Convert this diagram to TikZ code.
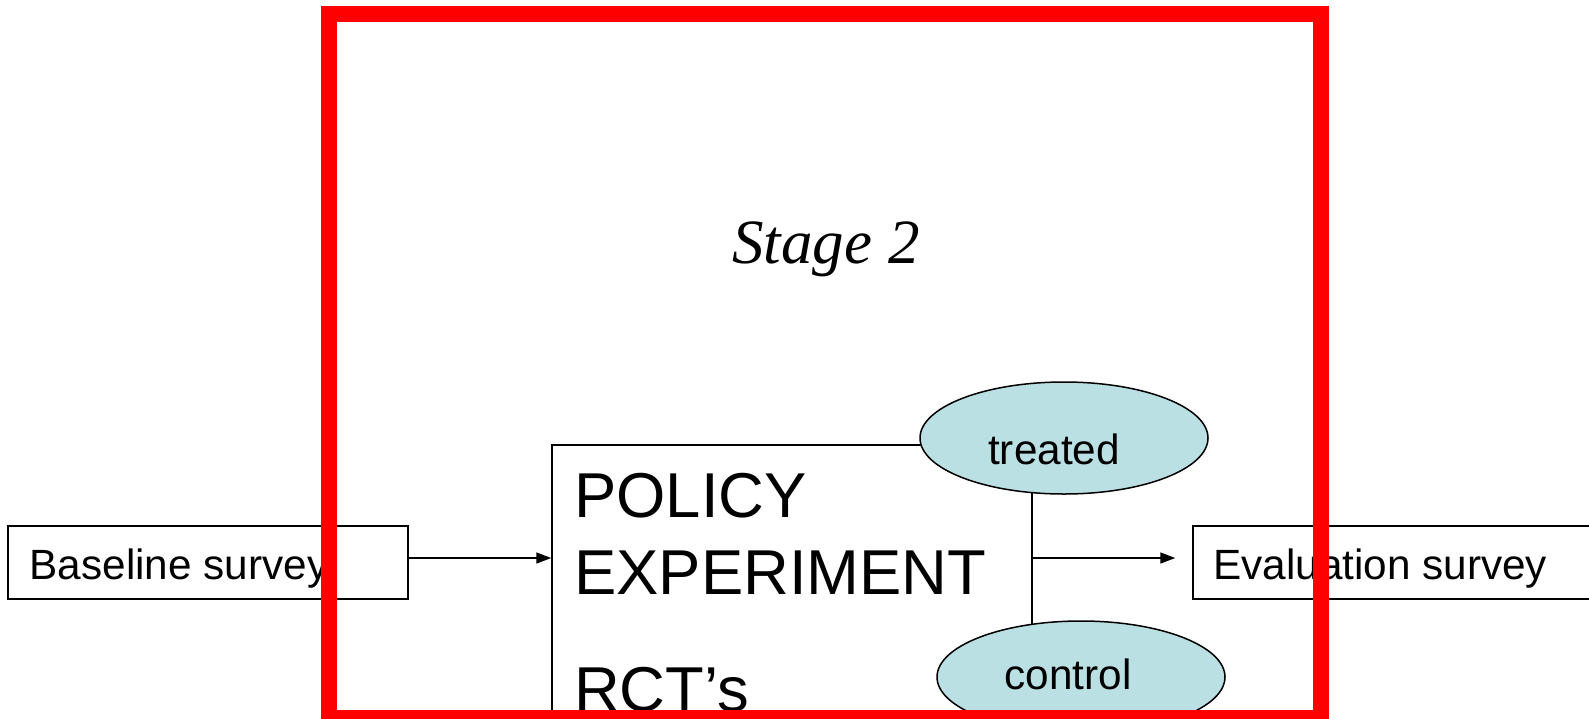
\documentclass[tikz,border=0pt]{standalone}
\usepackage{fontspec}
\setmainfont{Liberation Sans}
\newfontfamily\serifit{Liberation Serif}
\usetikzlibrary{arrows.meta,shapes.geometric}
\definecolor{ellfill}{RGB}{187,224,228}
\definecolor{framered}{RGB}{255,0,0}
\begin{document}
\begin{tikzpicture}[x=1pt,y=-1pt,
  boxline/.style={draw=black,line width=1.5pt},
  rectbox/.style={boxline,rectangle,inner sep=0pt,fill=white},
  ovalnode/.style={boxline,ellipse,fill=ellfill,inner sep=0pt,minimum width=288pt,minimum height=112pt},
  smalltext/.style={inner sep=0pt,font=\fontsize{42.3}{50}\selectfont},
  bigtext/.style={inner sep=0pt,anchor=base west,font=\fontsize{63.4}{76}\selectfont},
  arr/.style={line width=1.5pt,-{Triangle[length=15pt,width=11pt]}}]
\useasboundingbox (0,0) rectangle (1589,718);
\clip (0,0) rectangle (1589,718);
\fill[white] (0,0) rectangle (1589,718);
\coordinate (ay) at (0,558);
% boxes
\node[rectbox,minimum width=400pt,minimum height=73pt] (base) at (208,562.5) {};
\node[smalltext,anchor=base west] (baset) at (29.5,579) {Baseline survey};
\node[rectbox,minimum width=480pt,minimum height=415pt] (pol) at (792,652.5) {};
\node[bigtext] (l1) at (574,517) {POLICY};
\node[bigtext] (l2) at (574,594) {EXPERIMENT};
\node[bigtext] (l3) at (574,711) {RCT’s};
\node[rectbox,minimum width=450pt,minimum height=73pt] (eval) at (1418,562.5) {};
\node[smalltext,anchor=base west] (evalt) at (1213,579) {Evaluation survey};
% ellipses
\node[ovalnode] (tr) at (1064,438) {};
\node[smalltext] (trt) at (1054,449) {treated};
\node[ovalnode] (co) at (1081,677) {};
\node[smalltext] (cot) at (1068,674) {control};
% arrows
\draw[arr] (base.east |- ay) -- (pol.west |- ay);
\draw[arr,shorten >=17pt] (pol.east |- ay) -- (eval.west |- ay);
% stage title
\node[inner sep=0pt,anchor=base,font=\serifit\itshape\fontsize{63}{76}\selectfont] (stage) at (826,263) {Stage 2};
% red frame
\draw[draw=framered,line width=16pt] (329,14) rectangle (1321,718);
\end{tikzpicture}
\end{document}
